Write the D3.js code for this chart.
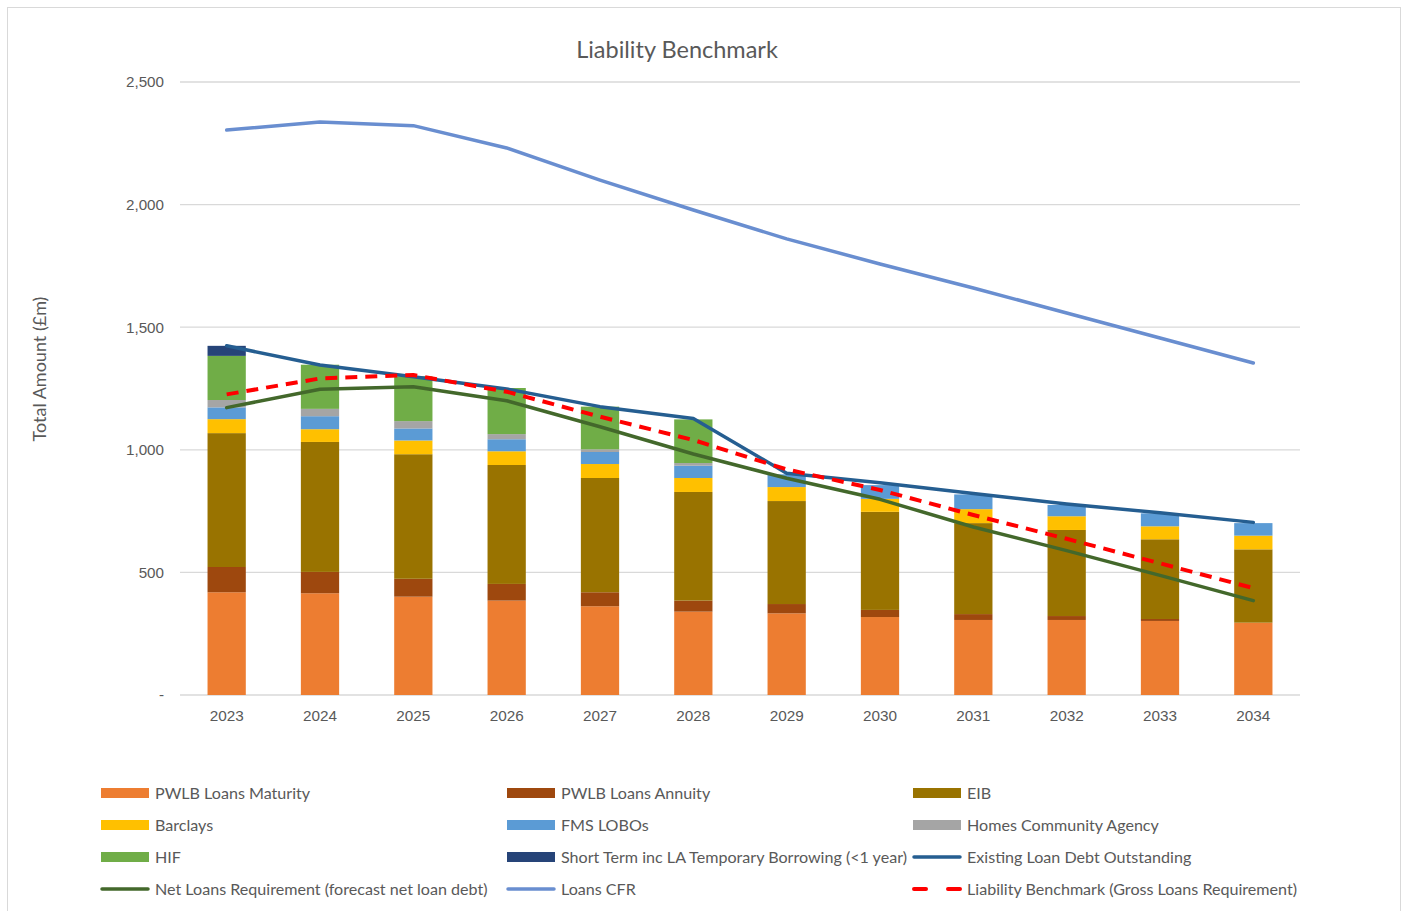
<!DOCTYPE html>
<html>
<head>
<meta charset="utf-8">
<script src="https://cdn.jsdelivr.net/npm/d3@7"></script>
<style>
  body { margin: 0; background: #fff; }
  svg { font-family: Lato, "Open Sans", sans-serif; }
</style>
</head>
<body>
<div class="canvas"></div>
<script>
const years = ["2023","2024","2025","2026","2027","2028","2029","2030","2031","2032","2033","2034"]

// stacked bar series (£m)
const pwlbMaturity = [419, 415, 401, 385, 362, 340, 333, 318, 306, 306, 302, 295]
const pwlbAnnuity  = [103, 87, 73, 68, 57, 45, 38, 29, 24, 16, 8, 0]
const eib          = [546, 530, 508, 485, 466, 443, 420, 400, 371, 351, 325, 299]
const barclays     = [57, 52, 56, 56, 57, 57, 57, 53, 57, 56, 53, 56]
const fmsLobos     = [48, 53, 49, 49, 49, 50, 52, 56, 60, 46, 53, 51]
const homesAgency  = [30, 30, 30, 21, 11, 11, 0, 0, 0, 0, 0, 0]
const hif          = [180, 180, 183, 188, 174, 178, 0, 0, 0, 0, 0, 0]
const shortTerm    = [41, 0, 0, 0, 0, 0, 0, 0, 0, 0, 0, 0]

// line series (£m)
const existingDebt = [1424, 1346, 1298, 1248, 1176, 1128, 904, 866, 822, 779, 743, 704]
const netLoans     = [1172, 1247, 1257, 1200, 1094, 983, 884, 798, 685, 589, 488, 385]
const loansCFR     = [2304, 2337, 2322, 2231, 2100, 1978, 1860, 1758, 1660, 1558, 1456, 1354]
const liabilityBM  = [1226, 1291, 1305, 1237, 1135, 1040, 920, 836, 734, 637, 537, 436]

const yTicks = [0, 500, 1000, 1500, 2000, 2500]

const barSeries = [
  {name:"PWLB Loans Maturity", values:pwlbMaturity, color:"#ed7d31"},
  {name:"PWLB Loans Annuity", values:pwlbAnnuity, color:"#9e480e"},
  {name:"EIB", values:eib, color:"#997300"},
  {name:"Barclays", values:barclays, color:"#ffc000"},
  {name:"FMS LOBOs", values:fmsLobos, color:"#5b9bd5"},
  {name:"Homes Community Agency", values:homesAgency, color:"#a5a5a5"},
  {name:"HIF", values:hif, color:"#70ad47"},
  {name:"Short Term inc LA Temporary Borrowing (<1 year)", values:shortTerm, color:"#264478"}
]
const lineSeries = [
  {name:"Existing Loan Debt Outstanding", values:existingDebt, color:"#255e91", dash:null},
  {name:"Net Loans Requirement (forecast net loan debt)", values:netLoans, color:"#43682b", dash:null},
  {name:"Loans CFR", values:loansCFR, color:"#698ed0", dash:null},
  {name:"Liability Benchmark (Gross Loans Requirement)", values:liabilityBM, color:"#ff0000", dash:"12,8"}
]

const W = 1408, H = 911
const m = {left:180, right:1300, top:82, bottom:695}
const svg = d3.select(".canvas").append("svg").attr("width",W).attr("height",H)

svg.append("rect").attr("x",7.5).attr("y",7.5).attr("width",1393).attr("height",H)
   .attr("fill","#fff").attr("stroke","#d9d9d9")

const x = d3.scaleBand().domain(years).range([m.left,m.right]).paddingInner(0.59).paddingOuter(0.295)
const y = d3.scaleLinear().domain([0,2500]).range([m.bottom,m.top])

// gridlines
svg.append("g").selectAll("line").data(yTicks).join("line")
   .attr("x1",m.left).attr("x2",m.right)
   .attr("y1",d=>y(d)).attr("y2",d=>y(d))
   .attr("stroke","#d9d9d9").attr("stroke-width",1.3)

// y axis labels
const yAxis = d3.axisLeft(y).tickValues(yTicks).tickSize(0).tickPadding(16)
   .tickFormat(d => d === 0 ? "-   " : d3.format(",")(d))
const ya = svg.append("g").attr("transform",`translate(${m.left},0)`).call(yAxis)
ya.select(".domain").remove()
ya.selectAll("text").attr("fill","#595959").style("font-size","15.2px")

// x axis labels
const xAxis = d3.axisBottom(x).tickSize(0).tickPadding(15)
const xa = svg.append("g").attr("transform",`translate(0,${m.bottom})`).call(xAxis)
xa.select(".domain").remove()
xa.selectAll("text").attr("fill","#595959").style("font-size","15.3px")

// stacked bars
const rows = years.map((yr,i) => {
  const r = {year:yr}
  barSeries.forEach(s => r[s.name] = s.values[i])
  return r
})
const stack = d3.stack().keys(barSeries.map(s=>s.name))
const layers = stack(rows)
svg.append("g").selectAll("g").data(layers).join("g")
   .attr("fill",(d,i)=>barSeries[i].color)
   .selectAll("rect").data(d=>d).join("rect")
   .attr("x",d=>x(d.data.year))
   .attr("width",x.bandwidth())
   .attr("y",d=>y(d[1]))
   .attr("height",d=>y(d[0])-y(d[1]))

// lines
const line = d3.line().x((d,i)=>x(years[i])+x.bandwidth()/2).y(d=>y(d))
svg.append("g").selectAll("path").data(lineSeries).join("path")
   .attr("d",d=>line(d.values))
   .attr("fill","none")
   .attr("stroke",d=>d.color)
   .attr("stroke-width",d=>d.dash ? 4 : 3.5)
   .attr("stroke-dasharray",d=>d.dash)
   .attr("stroke-linecap",d=>d.dash ? "butt" : "round")
   .attr("stroke-linejoin","round")

// title
svg.append("text").attr("x",677).attr("y",58).attr("text-anchor","middle")
   .attr("fill","#595959").style("font-size","23.5px").text("Liability Benchmark")

// y title
svg.append("text").attr("transform","translate(46,369) rotate(-90)").attr("text-anchor","middle")
   .attr("fill","#595959").style("font-size","18px").text("Total Amount (£m)")

// legend
const legendItems = barSeries.map(s=>({...s, type:"bar"})).concat(lineSeries.map(s=>({...s, type:"line"})))
const colX = [101, 507, 913]
const legend = svg.append("g").selectAll("g").data(legendItems).join("g")
   .attr("transform",(d,i)=>`translate(${colX[i%3]},${793 + Math.floor(i/3)*32})`)
legend.each(function(d){
  const g = d3.select(this)
  if (d.type === "bar") {
    g.append("rect").attr("x",0).attr("y",-5).attr("width",48).attr("height",10).attr("fill",d.color)
  } else {
    g.append("line").attr("x1",1).attr("x2",47).attr("y1",0).attr("y2",0)
     .attr("stroke",d.color).attr("stroke-width",d.dash?4:3.5)
     .attr("stroke-dasharray",d.dash ? "12,22" : null)
     .attr("stroke-linecap","round")
  }
  g.append("text").attr("x",54).attr("y",5.5).attr("fill","#595959")
   .style("font-size","16.1px").text(d.name)
})
</script>
</body>
</html>
